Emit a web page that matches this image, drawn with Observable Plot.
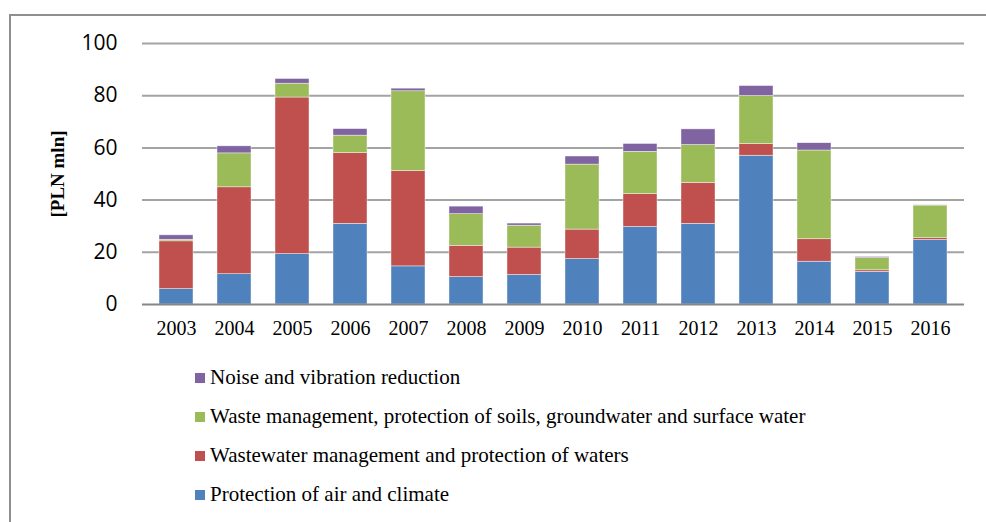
<!DOCTYPE html>
<html>
<head>
<meta charset="utf-8">
<script src="https://cdn.jsdelivr.net/npm/d3@7"></script>
<script src="https://cdn.jsdelivr.net/npm/@observablehq/plot@0.6"></script>
<style>
  html, body { margin: 0; padding: 0; background: #fff; }
  #page { position: relative; width: 986px; height: 522px; overflow: hidden; }
  #frame { position: absolute; left: 9px; top: 14px; width: 990px; height: 520px;
           border-left: 2px solid #8f8f8f; border-top: 2px solid #8f8f8f; }
  #chart { position: absolute; left: 0; top: 0; }
  #legend { position: absolute; left: 195px; top: 358px; font-family: "Liberation Serif", "Times New Roman", serif;
            font-size: 21px; color: #000; }
  .row { height: 39px; display: flex; align-items: center; white-space: nowrap; }
  .sw { width: 10px; height: 10px; margin-right: 5px; margin-top: 1px; flex: none; }
</style>
</head>
<body>
<div id="page">
  <div id="frame"></div>
  <div id="chart"></div>
  <div id="legend"></div>
</div>
<script>
const years = ["2003","2004","2005","2006","2007","2008","2009","2010","2011","2012","2013","2014","2015","2016"];
const seriesNames = [
  "Protection of air and climate",
  "Wastewater management and protection of waters",
  "Waste management, protection of soils, groundwater and surface water",
  "Noise and vibration reduction"
];
const seriesColors = ["#4F81BD", "#C0504D", "#9BBB59", "#8064A2"];
const air       = [5.9, 11.6, 19.3, 30.9, 14.6, 10.5, 11.3, 17.4, 29.7, 30.9, 57.0, 16.4, 12.5, 24.7];
const wastewater= [18.3, 33.3, 60.0, 27.1, 36.5, 12.0, 10.5, 11.3, 12.6, 15.7, 4.5, 8.6, 0.6, 0.7];
const waste     = [0.6, 13.0, 5.3, 6.7, 30.6, 12.1, 8.4, 24.9, 16.2, 14.5, 18.4, 34.0, 4.7, 12.5];
const noise     = [1.7, 2.7, 1.8, 2.5, 1.0, 2.9, 0.8, 3.1, 3.0, 6.0, 3.8, 2.8, 0.4, 0.1];
const yTicks = [0, 20, 40, 60, 80, 100];
const yLabel = "[PLN mln]";

const seriesValues = [air, wastewater, waste, noise];
const data = [];
seriesNames.forEach((s, i) => {
  years.forEach((y, j) => data.push({year: y, series: s, value: seriesValues[i][j]}));
});

const W = 986, H = 350;
const plot = Plot.plot({
  width: W,
  height: H,
  marginLeft: 142,
  marginRight: 22,
  marginTop: 43,
  marginBottom: 46,
  style: { background: "transparent", overflow: "visible" },
  x: { domain: years, paddingInner: 0.42, paddingOuter: 0.21, label: null },
  y: { domain: [0, 100], label: null },
  color: { domain: seriesNames, range: seriesColors },
  marks: [
    Plot.ruleY(yTicks.filter(d => d > 0), { stroke: "#a3a3a3", strokeWidth: 2 }),
    Plot.barY(data, { x: "year", y: "value", fill: "series", order: seriesNames,
                      stroke: "#ffffff", strokeWidth: 0.6, strokeOpacity: 0.7 }),
    Plot.ruleY([0], { stroke: "#868686", strokeWidth: 2 }),
    Plot.axisY({ ticks: yTicks, tickSize: 0, tickPadding: 25, label: null,
                 fontSize: 21, fontFamily: "'Open Sans', sans-serif", fill: "#000" }),
    Plot.axisX({ tickSize: 0, tickPadding: 16, label: null,
                 fontSize: 20, fontFamily: "'Liberation Serif', 'Times New Roman', serif", fill: "#000" }),
    Plot.text([yLabel], { frameAnchor: "left", dx: -85, dy: 0, rotate: -90, text: d => d, textAnchor: "middle",
                 fontSize: 19, fontWeight: "bold", fontFamily: "'Liberation Serif', 'Times New Roman', serif", fill: "#000" })
  ]
});
document.getElementById("chart").appendChild(plot);

const legend = document.getElementById("legend");
for (let i = seriesNames.length - 1; i >= 0; i--) {
  const row = document.createElement("div");
  row.className = "row";
  const sw = document.createElement("span");
  sw.className = "sw";
  sw.style.background = seriesColors[i];
  const t = document.createElement("span");
  t.textContent = seriesNames[i];
  row.appendChild(sw);
  row.appendChild(t);
  legend.appendChild(row);
}
</script>
</body>
</html>
